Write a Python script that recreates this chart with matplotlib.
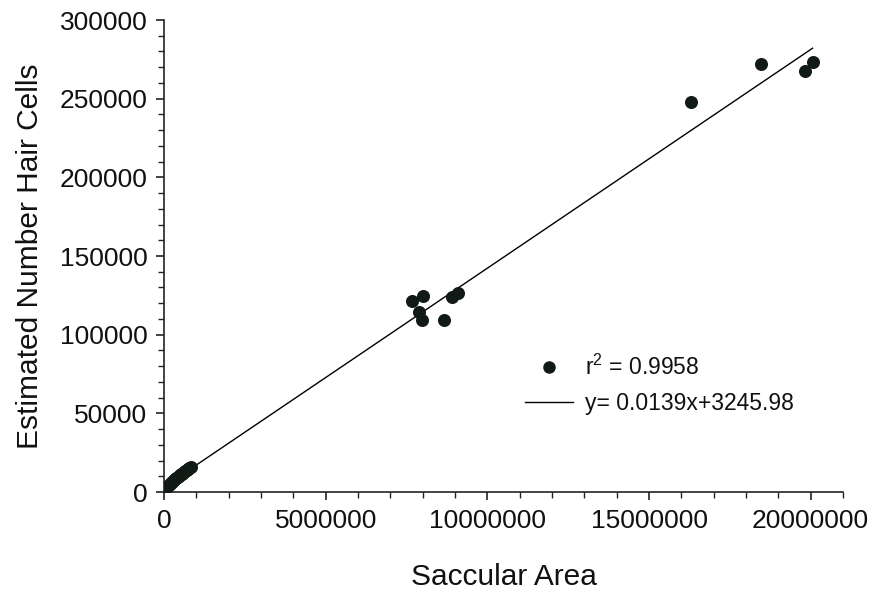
import matplotlib
matplotlib.use("Agg")
import matplotlib.pyplot as plt
import numpy as np
from matplotlib.lines import Line2D
from matplotlib.ticker import MultipleLocator

plt.rcParams['font.family'] = ['Liberation Sans', 'DejaVu Sans']
plt.rcParams['mathtext.default'] = 'regular'

# Data
saccular_area = [
    100000, 140000, 180000, 210000, 240000, 280000, 310000, 350000,
    380000, 420000, 450000, 490000, 520000, 560000, 590000, 630000,
    660000, 700000, 740000, 780000, 820000,
    7680000, 8020000, 7890000, 7990000, 8660000, 8900000, 9100000,
    16290000, 18450000, 19820000, 20060000,
]
hair_cells = [
    3000, 4200, 5000, 5600, 6200, 6800, 7600, 8200,
    8800, 9400, 10000, 10600, 11200, 11600, 12200, 12800,
    13400, 14000, 14600, 15200, 16000,
    121600, 124600, 114600, 109300, 109300, 124100, 126300,
    248100, 272000, 267800, 273500,
]
slope = 0.0139
intercept = 3245.98
r2_label = r'r$^{2}$ = 0.9958'
fit_label = 'y= 0.0139x+3245.98'
x_label = 'Saccular Area'
y_label = 'Estimated Number Hair Cells'

fig = plt.figure(figsize=(8.72, 5.93), dpi=100)
ax = fig.add_axes([164/872, 1-492/593, (843-164)/872, (492-20)/593])

dot_color = '#111a14'
ax.scatter(saccular_area, hair_cells, s=88, color=dot_color, zorder=3, linewidths=0)
xs = np.array([min(saccular_area), max(saccular_area)])
ax.plot(xs, slope*xs + intercept, color='black', lw=1.0, zorder=2)

ax.set_xlim(0, 21000000)
ax.set_ylim(0, 300000)
ax.xaxis.set_major_locator(MultipleLocator(5000000))
ax.xaxis.set_minor_locator(MultipleLocator(1000000))
ax.yaxis.set_major_locator(MultipleLocator(50000))
ax.yaxis.set_minor_locator(MultipleLocator(10000))
ax.ticklabel_format(style='plain', useOffset=False)

for s in ['top', 'right']:
    ax.spines[s].set_visible(False)
for s in ['left', 'bottom']:
    ax.spines[s].set_linewidth(1.2)
    ax.spines[s].set_color('#222222')

ax.tick_params(which='major', length=6, width=1.2, direction='out', labelsize=19, color='#222222', pad=6, labelcolor='#111111')
ax.tick_params(which='minor', length=4, width=1.0, direction='out', color='#222222')

ax.set_xlabel(x_label, fontsize=21.5, labelpad=22, color='#111111')
ax.set_ylabel(y_label, fontsize=21.5, labelpad=11, color='#111111')

handles = [
    Line2D([], [], marker='o', linestyle='none', color=dot_color, markersize=8),
    Line2D([], [], color='black', lw=1.0),
]
leg = ax.legend(handles, [r2_label, fit_label], loc='upper left',
                bbox_to_anchor=((525-164)/(843-164), (492-355)/472),
                frameon=False, fontsize=16.5, handlelength=2.1, handletextpad=0.5,
                borderpad=0, borderaxespad=0, labelspacing=0.5)
for t in leg.get_texts():
    t.set_color('#111111')

fig.savefig('out.png', dpi=100)
